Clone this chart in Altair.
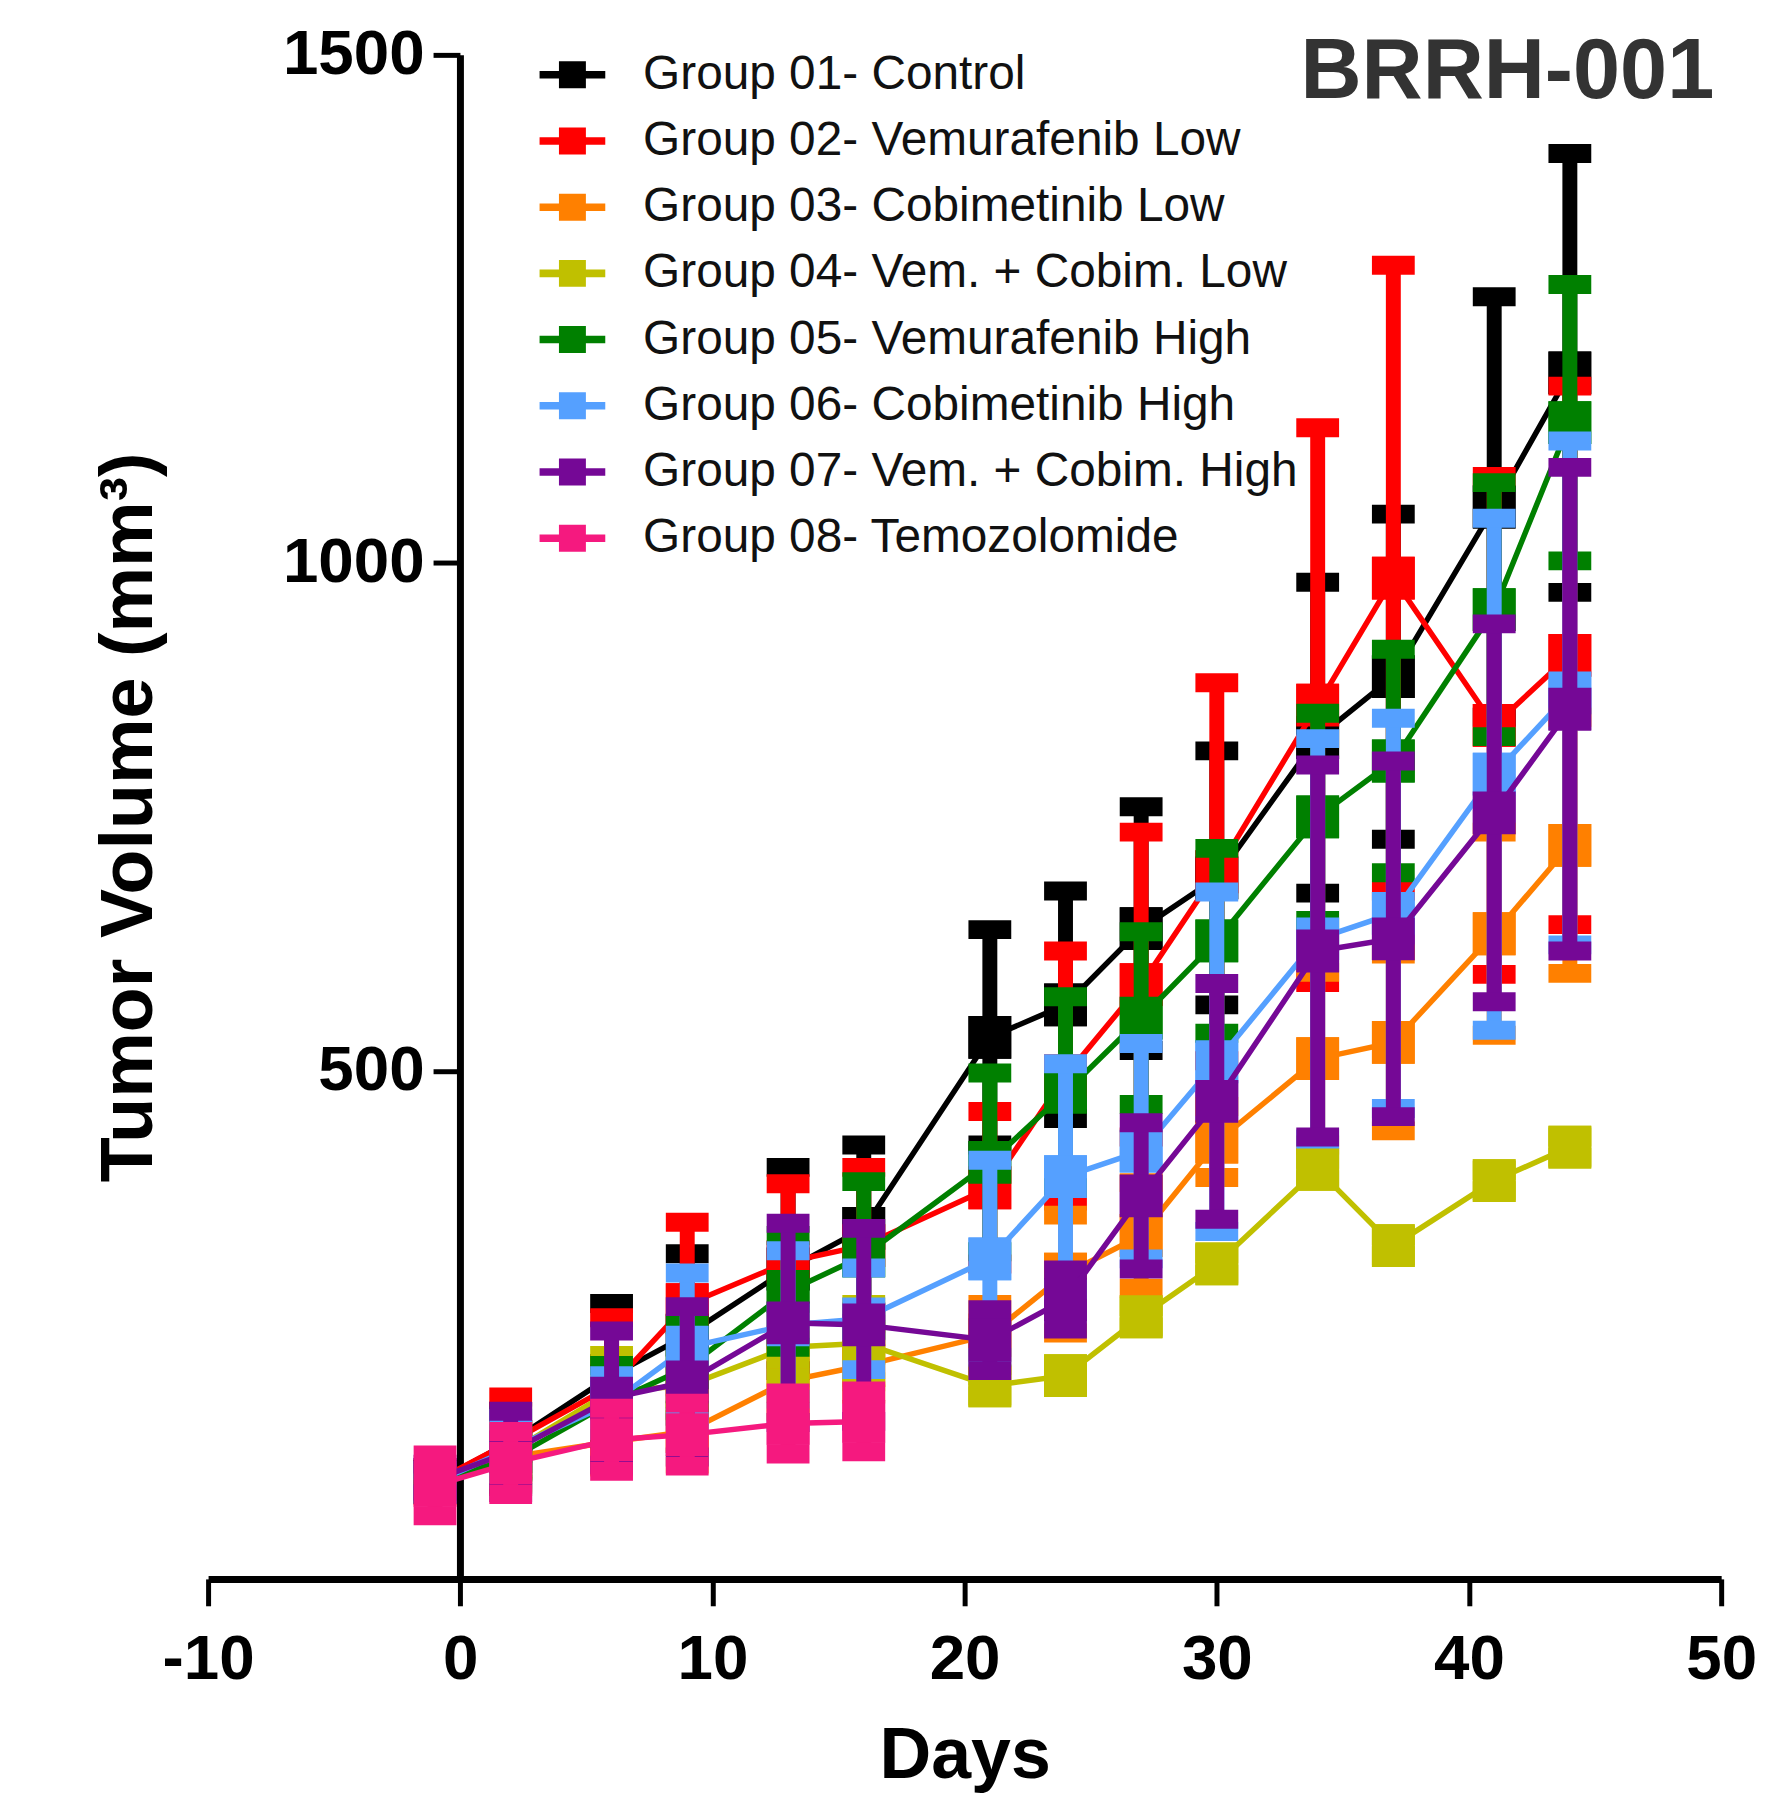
import altair as alt
import pandas as pd

# ---------------- data ----------------
days = [-1, 2, 6, 9, 13, 16, 21, 24, 27, 30, 34, 37, 41, 44]

groups = [
    "Group 01- Control",
    "Group 02- Vemurafenib Low",
    "Group 03- Cobimetinib Low",
    "Group 04- Vem. + Cobim. Low",
    "Group 05- Vemurafenib High",
    "Group 06- Cobimetinib High",
    "Group 07- Vem. + Cobim. High",
    "Group 08- Temozolomide",
]
colors = ["#000000", "#FF0000", "#FF8000", "#C0C000",
          "#008000", "#55A0FF", "#750896", "#F5197F"]

g1_mean = [95, 135, 200, 240, 305, 345, 533, 565, 640, 690, 828, 888, 1055, 1187]
g1_err = [12, 30, 71, 80, 100, 82, 106, 112, 120, 125, 153, 160, 207, 216]

g2_mean = [96, 135, 190, 270, 312, 328, 385, 495, 585, 696, 860, 985, 840, 909]
g2_err = [12, 44, 67, 81, 77, 77, 75, 123, 150, 186, 273, 308, 245, 265]

g3_mean = [94, 120, 135, 145, 195, 210, 240, 300, 338, 430, 512, 528, 635, 722]
g3_err = [10, 25, 25, 32, 30, 28, 30, 58, 52, 35, 85, 87, 100, 126]

g4_mean = [95, 125, 185, 190, 228, 232, 190, 200, 258, 310, 403, 328, 392, 425]
g4_err = [10, 20, 35, 25, 30, 38, 10, 10, 10, 10, 10, 10, 10, 10]

g5_mean = [96, 118, 174, 208, 283, 318, 410, 479, 552, 628, 750, 805, 954, 1138]
g5_err = [12, 25, 36, 42, 55, 73, 88, 94, 85, 91, 102, 110, 125, 136]

g6_mean = [95, 128, 173, 228, 250, 256, 315, 396, 421, 509, 630, 655, 792, 872]
g6_err = [12, 30, 27, 73, 73, 50, 97, 111, 106, 167, 197, 192, 252, 248]

g7_mean = [98, 125, 178, 194, 252, 250, 235, 275, 377, 470, 618, 630, 754, 856]
g7_err = [15, 40, 66, 74, 98, 95, 30, 29, 72, 116, 183, 175, 186, 238]

g8_days = [-1, 2, 6, 9, 13, 16]
g8_mean = [92, 114, 137, 142, 153, 155]
g8_err = [30, 31, 31, 31, 30, 30]

series = [
    (days, g1_mean, g1_err),
    (days, g2_mean, g2_err),
    (days, g3_mean, g3_err),
    (days, g4_mean, g4_err),
    (days, g5_mean, g5_err),
    (days, g6_mean, g6_err),
    (days, g7_mean, g7_err),
    (g8_days, g8_mean, g8_err),
]

rows = []
for gi, (dd, mm, ee) in enumerate(series):
    for d, m, e in zip(dd, mm, ee):
        rows.append({"group": groups[gi], "gi": gi, "day": d, "mean": m,
                     "lo": m - e, "hi": m + e})
df = pd.DataFrame(rows)

# ---------------- styling ----------------
FONT = "Liberation Sans"
MARK = 43

color_scale = alt.Scale(domain=groups, range=colors)

legend_symbol = "M-1,-0.115H1V0.115H-1Z M-0.41,-0.41H0.41V0.41H-0.41Z"
legend = alt.Legend(
    title=None, orient="none", legendX=333, legendY=-13,
    symbolType=legend_symbol, symbolSize=4356, symbolStrokeWidth=0,
    symbolOpacity=1, labelFont=FONT, labelFontSize=48, labelColor="#111111",
    labelLimit=1200, labelOffset=38, rowPadding=9.5, padding=0, offset=0,
)
color = alt.Color("group:N", scale=color_scale, legend=legend)

x_axis = alt.Axis(
    values=[-10, 0, 10, 20, 30, 40, 50], labelExpr="'' + datum.value",
    title="Days", titleFont=FONT, titleFontSize=72, titleFontWeight="bold",
    titleColor="black", titlePadding=30,
    labelFont=FONT, labelFontSize=64, labelFontWeight="bold", labelColor="black",
    labelPadding=22, labelFlush=False, tickSize=27, tickWidth=5,
    tickColor="black", domainColor="black", domainWidth=7, grid=False,
)
y_axis = alt.Axis(
    values=[500, 1000, 1500], offset=-253, labelExpr="'' + datum.value",
    title="Tumor Volume (mm³)", titleFont=FONT, titleFontSize=74,
    titleFontWeight="bold", titleColor="black", titlePadding=115,
    labelFont=FONT, labelFontSize=64, labelFontWeight="bold", labelColor="black",
    labelPadding=9, tickSize=27, tickWidth=5, tickColor="black",
    domainColor="black", domainWidth=7, grid=False,
)

xs = alt.Scale(domain=[-10, 50], nice=False, zero=False)
ys = alt.Scale(domain=[0, 1500], nice=False)
X = alt.X("day:Q", scale=xs, axis=x_axis)

base = alt.Chart(df)

# first layer: filled squares (fully re-covered by the per-group squares),
# so that the legend symbols are filled
layers = [base.mark_square(size=MARK * MARK, opacity=1, filled=True).encode(
    x=X, y=alt.Y("mean:Q", scale=ys, axis=y_axis), color=color)]

for gi, g in enumerate(groups):
    sub = base.transform_filter(alt.datum.gi == gi)
    stem = sub.mark_rule(strokeWidth=15).encode(
        x=X, y=alt.Y("lo:Q", scale=ys, axis=y_axis), y2="hi:Q", color=color)
    cap_hi = sub.mark_tick(orient="horizontal", size=MARK, thickness=19,
                           opacity=1).encode(
        x=X, y=alt.Y("hi:Q", scale=ys, axis=y_axis), color=color)
    cap_lo = sub.mark_tick(orient="horizontal", size=MARK, thickness=19,
                           opacity=1).encode(
        x=X, y=alt.Y("lo:Q", scale=ys, axis=y_axis), color=color)
    line = sub.mark_line(strokeWidth=5.5).encode(
        x=X, y=alt.Y("mean:Q", scale=ys, axis=y_axis), color=color)
    sq = sub.mark_square(size=MARK * MARK, opacity=1, filled=True).encode(
        x=X, y=alt.Y("mean:Q", scale=ys, axis=y_axis), color=color)
    layers += [stem, cap_hi, cap_lo, line, sq]

chart = alt.layer(*layers).properties(
    width=1520, height=1531,
    title=alt.TitleParams(
        "BRRH-001", anchor="end", frame="group", orient="top",
        font=FONT, fontSize=85, fontWeight="bold", color="#333333",
        baseline="alphabetic", offset=0, dy=160, dx=-7,
    ),
    background="white",
    autosize=alt.AutoSizeParams(type="none"),
    padding={"left": 201, "top": 43, "right": 37, "bottom": 212},
).configure_view(stroke=None)

chart.save("out.html", embed_options={"renderer": "svg", "actions": False})
